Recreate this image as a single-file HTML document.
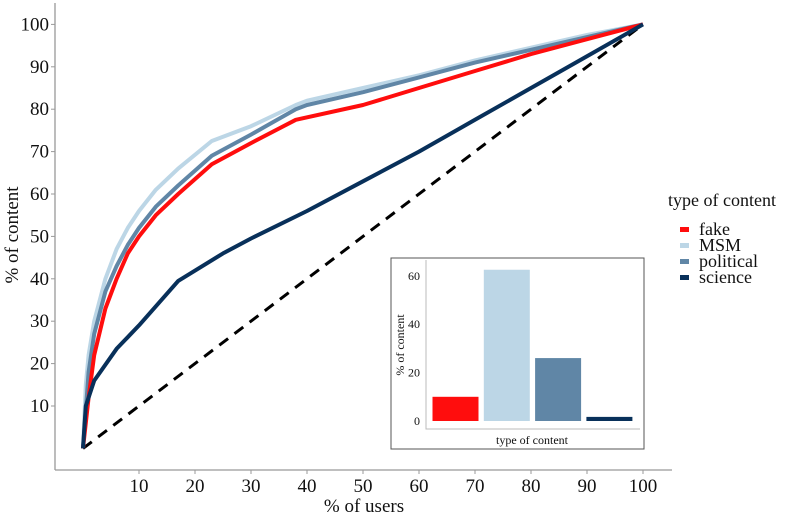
<!DOCTYPE html>
<html><head><meta charset="utf-8"><style>
body{margin:0;background:#fff;}
svg, svg text{font-family:"Liberation Serif","DejaVu Serif",serif;}
svg text{fill:#111;}
</style></head><body>
<svg width="796" height="517" viewBox="0 0 796 517" xmlns="http://www.w3.org/2000/svg" font-family="Liberation Serif, serif">
<g id="main"></g>
<g id="inset"></g>
<g id="legend"></g>
</svg>
<script>
const seriesNames=["fake","MSM","political","science"];
const seriesColors=["#ff0d0d","#bcd6e6","#6086a6","#08305a"];
const fakeX=[0,1,2,4,6,8,10,13,17,23,30,38,50,60,70,80,90,100];
const fakeY=[0,12,22,33,40,46,50,55,60,67,72,77.5,81,85,89,93,96.5,100];
const msmX=[0,0.5,1,2,4,6,8,10,13,17,23,30,38,40,50,60,70,80,90,100];
const msmY=[0,15,22,30,40,47,52,56,61,66,72.5,76,81,82,85,88,91.5,94.5,97.5,100];
const polX=[0,1,2,4,6,8,10,13,17,23,30,38,40,50,60,70,80,90,100];
const polY=[0,18,27,37,43,48,52,57,62,69,74,80,81,84,87.5,91,94,97,100];
const sciX=[0,0.5,2,6,10,17,25,30,40,50,60,70,80,90,100];
const sciY=[0,10,16,23.5,29,39.5,46,49.5,56,63,70,77.5,85,92.5,100];
const xTicks=[10,20,30,40,50,60,70,80,90,100];
const yTicks=[10,20,30,40,50,60,70,80,90,100];
const barCats=["fake","MSM","political","science"];
const barValues=[10,62.5,26,1.7];
const insetTicks=[0,20,40,60];

const NS="http://www.w3.org/2000/svg";
function mk(p,t,a){const e=document.createElementNS(NS,t);for(const k in a)e.setAttribute(k,a[k]);if(t==='text')e.setAttribute('font-family','Liberation Serif, serif');p.appendChild(e);return e;}
const sx=v=>83+v*5.6, sy=v=>448.4-v*4.24;
const main=document.getElementById('main');
let e;
e=mk(main,'line',{x1:55,y1:3,x2:55,y2:470,stroke:'#999','stroke-width':1.3});


e=mk(main,'line',{x1:55,y1:470,x2:672,y2:470,stroke:'#999','stroke-width':1.3});


xTicks.forEach(t=>{
 mk(main,'line',{x1:sx(t),y1:470,x2:sx(t),y2:474,stroke:'#999'});
 e=mk(main,'text',{x:sx(t),y:492,'text-anchor':'middle','font-size':19});e.textContent=t;
 
 
});
yTicks.forEach(t=>{
 mk(main,'line',{x1:51,y1:sy(t),x2:55,y2:sy(t),stroke:'#999'});
 e=mk(main,'text',{x:49,y:sy(t)+6,'text-anchor':'end','font-size':19});e.textContent=t;
 
 
});
e=mk(main,'text',{x:364,y:512,'text-anchor':'middle','font-size':19});e.textContent='% of users';


e=mk(main,'text',{x:0,y:0,'text-anchor':'middle','font-size':19,transform:'translate(18,235) rotate(-90)'});e.textContent='% of content';


e=mk(main,'line',{x1:sx(0),y1:sy(0),x2:sx(100),y2:sy(100),stroke:'#000','stroke-width':3,'stroke-dasharray':'11 8'});


const sData=[[fakeX,fakeY],[msmX,msmY],[polX,polY],[sciX,sciY]];
[1,2,0,3].forEach(i=>{
 const [xs,ys]=sData[i];
 const d=xs.map((x,j)=>(j?'L':'M')+sx(x).toFixed(1)+','+sy(ys[j]).toFixed(1)).join(' ');
 const p=mk(main,'path',{d:d,fill:'none',stroke:seriesColors[i],'stroke-width':4,'stroke-linejoin':'round'});
 
 
});
// inset
const ins=document.getElementById('inset');
e=mk(ins,'rect',{x:391,y:258,width:253,height:191,fill:'#fff',stroke:'#555','stroke-width':1});


const iy=v=>421-v*2.42;
mk(ins,'polyline',{points:'426,260 426,429 640,429',fill:'none',stroke:'#bbb','stroke-width':1});
insetTicks.forEach(t=>{
 e=mk(ins,'text',{x:420,y:iy(t)+4,'text-anchor':'end','font-size':12});e.textContent=t;
 
 
});
barCats.forEach((c,i)=>{
 const x0=432.5+i*51.3;
 const r=mk(ins,'rect',{x:x0,y:iy(barValues[i]),width:46,height:iy(0)-iy(barValues[i]),fill:seriesColors[i]});
 
 
});
e=mk(ins,'text',{x:532,y:444,'text-anchor':'middle','font-size':12});e.textContent='type of content';


e=mk(ins,'text',{x:0,y:0,'text-anchor':'middle','font-size':12,transform:'translate(404,345) rotate(-90)'});e.textContent='% of content';


// legend
const lg=document.getElementById('legend');
e=mk(lg,'text',{x:668,y:206,'font-size':18});e.textContent='type of content';


seriesNames.forEach((n,i)=>{
 const y=230+i*16;
 const g=mk(lg,'g',{});
 
 
 mk(g,'rect',{x:680,y:y-3,width:9,height:5,fill:seriesColors[i]});
 const t=mk(g,'text',{x:699,y:y+5,'font-size':18});t.textContent=n;
});
</script>
</body></html>
